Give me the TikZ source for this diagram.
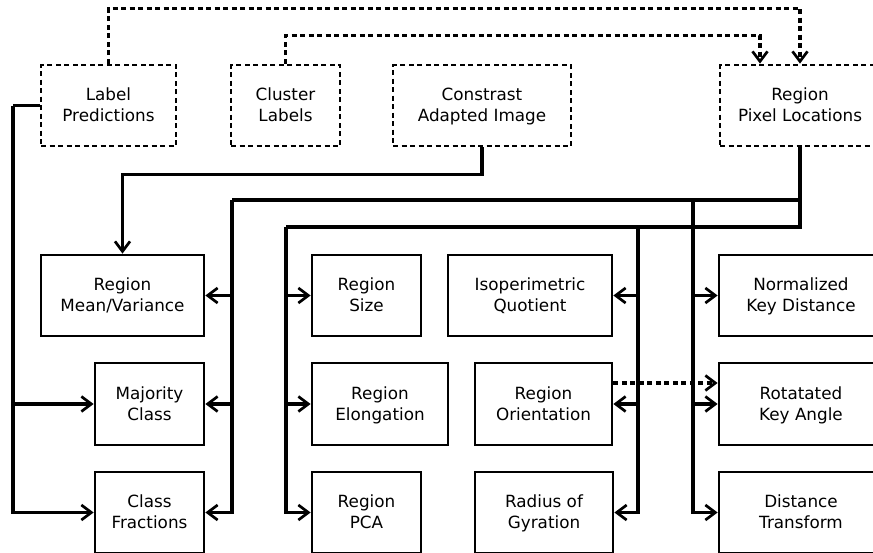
\documentclass[tikz,border=0pt]{standalone}
\usepackage{fontspec}
\setmainfont{DejaVu Sans}
\usetikzlibrary{arrows.meta}
\newcommand\tstrut{\rule[-4.8pt]{0pt}{21pt}}
\newcommand\tl[2]{#1\tstrut\\#2\tstrut}
\begin{document}
\begin{tikzpicture}[x=1pt,y=-1pt,
  box/.style={draw,line width=2.8pt,inner sep=0pt,align=center,minimum height=81pt,
    font=\fontsize{16.8}{21}\selectfont},
  dbox/.style={box,dash pattern=on 5pt off 3.5pt},
  conn/.style={line width=3.1pt,line join=miter},
  tip/.style={-{Straight Barb[length=10pt,width=15pt,line width=2.7pt]}},
  dconn/.style={conn,dash pattern=on 5pt off 3.5pt}]
\clip (0,0) rectangle (873,552);
\useasboundingbox (0,0) rectangle (873,552);
% top row
\node[dbox,minimum width=135pt] (lp) at (108.5,105.5) {\tl{Label}{Predictions}};
\node[dbox,minimum width=109pt] (cl) at (285.5,105.5) {\tl{Cluster}{Labels}};
\node[dbox,minimum width=178pt] (ca) at (482,105.5) {\tl{Constrast}{Adapted Image}};
\node[dbox,minimum width=160pt] (rp) at (800,105.5) {\tl{Region}{Pixel Locations}};
% row 1
\node[box,minimum width=163pt] (mv) at (122.5,295.5) {\tl{Region}{Mean/Variance}};
\node[box,minimum width=109pt] (rs) at (366.5,295.5) {\tl{Region}{Size}};
\node[box,minimum width=164pt] (iq) at (530,295.5) {\tl{Isoperimetric}{Quotient}};
\node[box,minimum width=164pt] (nk) at (801,295.5) {\tl{Normalized}{Key Distance}};
% row 2
\node[box,minimum width=109pt,minimum height=82pt] (mc) at (149.5,404) {\tl{Majority}{Class}};
\node[box,minimum width=136pt,minimum height=82pt] (re) at (380,404) {\tl{Region}{Elongation}};
\node[box,minimum width=137pt,minimum height=82pt] (ro) at (543.5,404) {\tl{Region}{Orientation}};
\node[box,minimum width=164pt,minimum height=82pt] (rk) at (801,404) {\tl{Rotatated}{Key Angle}};
% row 3
\node[box,minimum width=109pt] (cf) at (149.5,512.5) {\tl{Class}{Fractions}};
\node[box,minimum width=109pt] (pca) at (366.5,512.5) {\tl{Region}{PCA}};
\node[box,minimum width=138pt] (rg) at (544,512.5) {\tl{Radius of}{Gyration}};
\node[box,minimum width=164pt] (dt) at (801,512.5) {\tl{Distance}{Transform}};
% coordinates
\coordinate (b1) at (232,200);
\coordinate (b2) at (286,227);
\coordinate (j1) at (638,227);
\coordinate (j2) at (693,200);
\coordinate (lx) at (13,105.5);
% dashed connectors on top
\draw[dconn,tip] (lp.north) -- ++(0,-55.5) -| (rp.north);
\draw[dconn,tip] (cl.north) -- ++(0,-28) -| ([xshift=-40pt]rp.north);
% contrast image to mean/variance
\draw[conn,tip] (ca.south) -- ++(0,27) -| (mv.north);
% region pixel locations trunk
\draw[conn] (rp.south) |- (b2);
\draw[conn] (rp.south |- b1) -- (b1);
\draw[conn,tip] (b1) |- (mv.east);
\draw[conn,tip] (b1) |- (mc.east);
\draw[conn,tip] (b1) |- (cf.east);
\draw[conn,tip] (b2) |- (rs.west);
\draw[conn,tip] (b2) |- (re.west);
\draw[conn,tip] (b2) |- (pca.west);
\draw[conn,tip] (j1) |- (iq.east);
\draw[conn,tip] (j1) |- (ro.east);
\draw[conn,tip] (j1) |- (rg.east);
\draw[conn,tip] (j2) |- (nk.west);
\draw[conn,tip] (j2) |- (rk.west);
\draw[conn,tip] (j2) |- (dt.west);
% label predictions
\draw[conn] (lp.west) -- (lx);
\draw[conn,tip] (lx) |- (cf.west);
\draw[conn,tip] (lx |- mc.west) -- (mc.west);
% orientation to rotated key angle
\draw[dconn,tip] ([yshift=21pt]ro.east) -- ([yshift=21pt]ro.east -| rk.west);
\end{tikzpicture}
\end{document}
